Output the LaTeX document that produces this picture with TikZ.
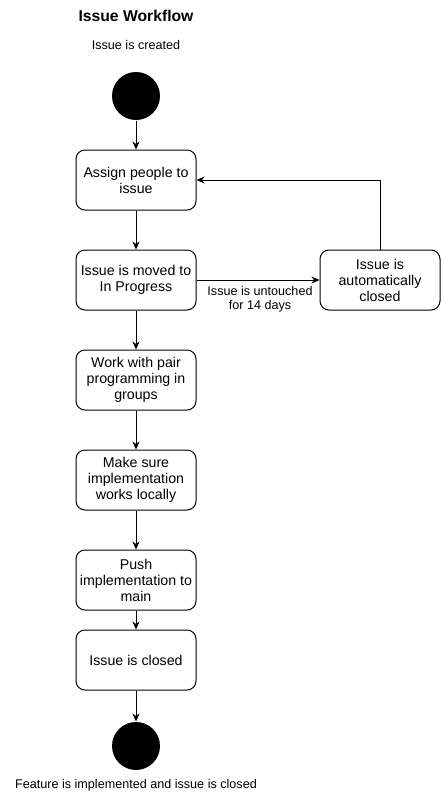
\documentclass[tikz,border=0pt]{standalone}
\usepackage{fontspec}
\setmainfont{Liberation Sans}
\usetikzlibrary{arrows.meta}
\begin{document}
\begin{tikzpicture}[x=1pt, y=-1pt, line width=1pt,
    state/.style={draw, rounded corners=9pt, minimum width=120pt, minimum height=60pt,
        align=center, inner sep=2pt, font=\fontsize{14.2}{16}\selectfont},
    dot/.style={circle, fill=black, minimum size=48pt, inner sep=0pt},
    lbl/.style={align=center, font=\fontsize{12.6}{15}\selectfont},
    flow/.style={-{Stealth[length=8pt,width=7pt,inset=2.5pt]}}]
    \useasboundingbox (0,0) rectangle (441,801);

    % Title and start
    \node[font=\bfseries\fontsize{15.7}{18}\selectfont] (title) at (136,16) {Issue Workflow};
    \node[lbl] (startlbl) at (136,45) {Issue is created};
    \node[dot] (start) at (136,96) {};

    % States
    \node[state] (assign) at (136,180) {Assign people to\\issue};
    \node[state] (progress) at (136,280) {Issue is moved to\\In Progress};
    \node[state] (autoclose) at (380,280) {Issue is\\automatically\\closed};
    \node[state] (pair) at (136,380) {Work with pair\\programming in\\groups};
    \node[state] (local) at (136,480) {Make sure\\implementation\\works locally};
    \node[state] (push) at (136,580) {Push\\implementation to\\main};
    \node[state] (closed) at (136,660) {Issue is closed};

    % End
    \node[dot] (stop) at (136,746) {};
    \node[lbl] (stoplbl) at (136,785) {Feature is implemented and issue is closed};

    % Flow
    \draw[flow] (start) -- (assign);
    \draw[flow] (assign) -- (progress);
    \draw[flow] (progress) -- node[lbl, below=3pt, xshift=2pt, font=\fontsize{12.6}{14}\selectfont]
        {Issue is untouched\\for 14 days} (autoclose);
    \draw[flow] (autoclose.north) |- (assign.east);
    \draw[flow] (progress) -- (pair);
    \draw[flow] (pair) -- (local);
    \draw[flow] (local) -- (push);
    \draw[flow] (push) -- (closed);
    \draw[flow] (closed) -- (stop);
\end{tikzpicture}
\end{document}
